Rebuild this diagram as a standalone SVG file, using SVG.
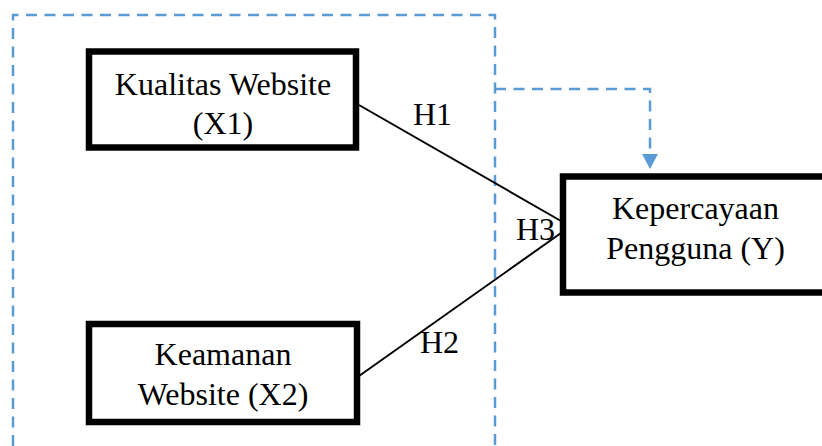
<svg xmlns="http://www.w3.org/2000/svg" width="822" height="446" viewBox="0 0 822 446">
  <defs>
    <style>
      .node rect { fill: #ffffff; stroke: #000000; stroke-width: 6.5; }
      .label { font-family: "Liberation Serif", "Times New Roman", serif; font-size: 32px; fill: #000000; }
      .mid { text-anchor: middle; }
      .link { stroke: #000000; stroke-width: 2; fill: none; }
      .dash { stroke: #5B9BD5; stroke-width: 2.5; fill: none; stroke-dasharray: 11 7.5; }
    </style>
  </defs>
  <rect width="822" height="446" fill="#ffffff"/>

  <!-- moderating frame around the independent variables -->
  <g id="frame">
    <path class="dash" d="M13,446 L13,15 L495,15 L495,446"/>
  </g>

  <g id="connectors">
    <line class="link" x1="359" y1="105" x2="561" y2="221"/>
    <line class="link" x1="359" y1="376" x2="561" y2="233"/>
    <path class="dash" d="M495,89 L650,89 L650,155"/>
    <path d="M642,154 L658,154 L650,169 z" fill="#5B9BD5"/>
    <text class="label" x="413" y="125">H1</text>
    <text class="label" x="420" y="353">H2</text>
    <text class="label" x="516" y="240">H3</text>
  </g>

  <g id="x1" class="node">
    <rect x="89" y="51.5" width="267" height="96"/>
    <text class="label mid" x="223" y="95">Kualitas Website</text>
    <text class="label mid" x="223" y="134">(X1)</text>
  </g>

  <g id="x2" class="node">
    <rect x="89" y="324" width="268" height="98"/>
    <text class="label mid" x="223" y="365">Keamanan</text>
    <text class="label mid" x="223" y="405">Website (X2)</text>
  </g>

  <g id="y" class="node">
    <rect x="563" y="176.5" width="270" height="116"/>
    <text class="label mid" x="695.5" y="219">Kepercayaan</text>
    <text class="label mid" x="695.5" y="259">Pengguna (Y)</text>
  </g>
</svg>
